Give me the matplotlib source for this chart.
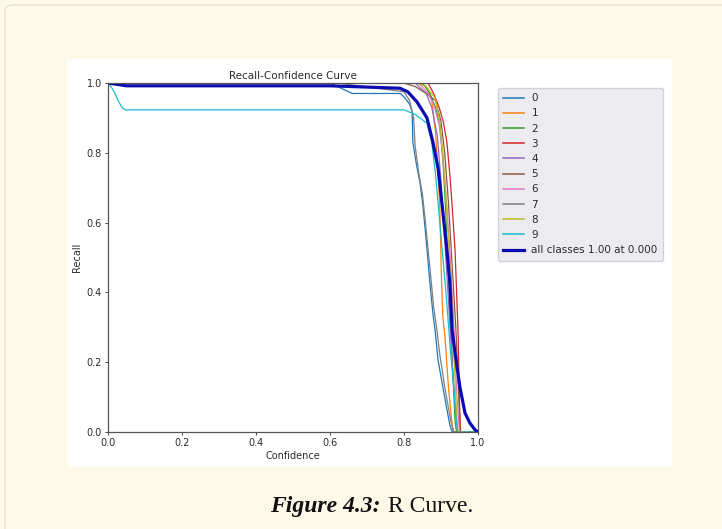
import matplotlib
matplotlib.use("Agg")
import matplotlib.pyplot as plt
from matplotlib.patches import FancyBboxPatch, Rectangle

# class curves (confidence -> recall)
class_names = ["0", "1", "2", "3", "4", "5", "6", "7", "8", "9"]
class_colors = ["#1f77b4", "#ff7f0e", "#2ca02c", "#d62728", "#9467bd",
                "#8c564b", "#e377c2", "#7f7f7f", "#bcbd22", "#17becf"]

conf_0 = [0, 0.60, 0.66, 0.79, 0.80, 0.815, 0.822, 0.824, 0.833, 0.843, 0.851, 0.86, 0.870, 0.878, 0.884, 0.892, 0.905, 0.915, 0.924, 0.93, 1.0]
recall_0 = [1.0, 1.0, 0.97, 0.97, 0.96, 0.94, 0.917, 0.83, 0.77, 0.716, 0.65, 0.55, 0.427, 0.341, 0.292, 0.206, 0.129, 0.07, 0.02, 0.0, 0.0]

conf_1 = [0, 0.84, 0.86, 0.875, 0.885, 0.892, 0.897, 0.901, 0.905, 0.911, 0.92, 0.93, 0.935, 1.0]
recall_1 = [1.0, 1.0, 0.99, 0.95, 0.86, 0.75, 0.636, 0.45, 0.33, 0.27, 0.13, 0.02, 0.0, 0.0]

conf_2 = [0, 0.85, 0.87, 0.885, 0.897, 0.905, 0.912, 0.918, 0.925, 0.932, 0.938, 0.942, 1.0]
recall_2 = [1.0, 1.0, 0.97, 0.93, 0.88, 0.78, 0.65, 0.5, 0.34, 0.17, 0.03, 0.0, 0.0]

conf_3 = [0, 0.865, 0.88, 0.895, 0.906, 0.916, 0.924, 0.93, 0.938, 0.946, 0.95, 0.953, 1.0]
recall_3 = [1.0, 1.0, 0.97, 0.93, 0.89, 0.83, 0.736, 0.65, 0.52, 0.29, 0.08, 0.0, 0.0]

conf_4 = [0, 0.83, 0.86, 0.875, 0.89, 0.9, 0.91, 0.92, 0.93, 0.94, 0.945, 1.0]
recall_4 = [1.0, 1.0, 0.97, 0.93, 0.85, 0.72, 0.55, 0.38, 0.2, 0.05, 0.0, 0.0]

conf_5 = [0, 0.8, 0.83, 0.86, 0.885, 0.9, 0.91, 0.92, 0.93, 0.94, 0.948, 0.952, 1.0]
recall_5 = [1.0, 1.0, 0.99, 0.97, 0.95, 0.89, 0.8, 0.66, 0.48, 0.3, 0.1, 0.0, 0.0]

conf_6 = [0, 0.84, 0.865, 0.88, 0.895, 0.905, 0.915, 0.925, 0.935, 0.943, 0.95, 1.0]
recall_6 = [1.0, 1.0, 0.97, 0.94, 0.88, 0.79, 0.66, 0.5, 0.3, 0.1, 0.0, 0.0]

conf_7 = [0, 0.62, 0.80, 0.815, 0.826, 0.83, 0.84, 0.85, 0.858, 0.87, 0.88, 0.888, 0.897, 0.91, 0.925, 0.934, 1.0]
recall_7 = [1.0, 1.0, 0.975, 0.95, 0.9, 0.82, 0.74, 0.68, 0.6, 0.47, 0.36, 0.3, 0.22, 0.13, 0.04, 0.0, 0.0]

conf_8 = [0, 0.835, 0.86, 0.884, 0.895, 0.905, 0.913, 0.92, 0.928, 0.936, 0.942, 0.946, 1.0]
recall_8 = [1.0, 1.0, 0.99, 0.957, 0.9, 0.8, 0.68, 0.55, 0.4, 0.2, 0.05, 0.0, 0.0]

conf_9 = [0, 0.008, 0.019, 0.027, 0.038, 0.046, 0.80, 0.83, 0.862, 0.875, 0.885, 0.895, 0.905, 0.915, 0.925, 0.935, 0.94, 0.945, 1.0]
recall_9 = [1.0, 0.99, 0.97, 0.95, 0.93, 0.923, 0.923, 0.91, 0.885, 0.83, 0.74, 0.62, 0.5, 0.38, 0.24, 0.12, 0.05, 0.0, 0.0]

conf_all = [0, 0.05, 0.6, 0.789, 0.81, 0.835, 0.862, 0.878, 0.892, 0.903, 0.916, 0.924, 0.930, 0.938, 0.951, 0.965, 0.978, 0.992, 1.0]
recall_all = [1.0, 0.992, 0.992, 0.985, 0.975, 0.946, 0.90, 0.831, 0.756, 0.65, 0.521, 0.427, 0.292, 0.226, 0.129, 0.054, 0.026, 0.006, 0.0]
all_label = "all classes 1.00 at 0.000"

confs = [conf_0, conf_1, conf_2, conf_3, conf_4, conf_5, conf_6, conf_7, conf_8, conf_9]
recalls = [recall_0, recall_1, recall_2, recall_3, recall_4, recall_5, recall_6, recall_7, recall_8, recall_9]

W, H = 722, 529
fig = plt.figure(figsize=(W / 100, H / 100), dpi=100)
fig.patch.set_facecolor("#fefae8")

# page box and white chart image behind the axes
fig.patches.append(FancyBboxPatch((5 / W, -20 / H), 740 / W, (H - 5 + 20) / H,
                                  boxstyle="round,pad=0,rounding_size=0.012",
                                  transform=fig.transFigure, facecolor="#fef9e7",
                                  edgecolor="#e9e6da", linewidth=1.2, zorder=0))
fig.patches.append(Rectangle((67 / W, (H - 467) / H), (672 - 67) / W, (467 - 59) / H,
                             transform=fig.transFigure, facecolor="white",
                             edgecolor="none", zorder=1))

ax = fig.add_axes([108 / W, (H - 432) / H, 370 / W, 349 / H])
ax.set_zorder(2)
txt = "#2b2b2b"
for i in range(len(class_names)):
    ax.plot(confs[i], recalls[i], linewidth=0.9, color=class_colors[i], label=class_names[i])
ax.plot(conf_all, recall_all, linewidth=2.3, color="#0b0bb0", label=all_label)

ax.set_xlim(0, 1)
ax.set_ylim(0, 1)
ax.set_xticks([0, 0.2, 0.4, 0.6, 0.8, 1.0])
ax.set_yticks([0, 0.2, 0.4, 0.6, 0.8, 1.0])
ax.tick_params(labelsize=7, length=2.5, width=0.7, colors="#444", labelcolor=txt, pad=2)
for s in ax.spines.values():
    s.set_color("#555")
    s.set_linewidth(0.9)
ax.set_xlabel("Confidence", fontsize=7, color=txt, labelpad=2)
ax.set_ylabel("Recall", fontsize=7, color=txt, labelpad=3)
ax.set_title("Recall-Confidence Curve", fontsize=7.5, color=txt, pad=3)

leg = ax.legend(loc="upper left", bbox_to_anchor=(498 / W, (H - 88) / H),
                bbox_transform=fig.transFigure, fontsize=7.5, frameon=True,
                fancybox=True, handlelength=2.0, handletextpad=0.7,
                labelspacing=0.5, borderpad=0.5, borderaxespad=0)
leg.get_frame().set_facecolor("#ebebf0")
leg.get_frame().set_edgecolor("#d2d2d6")
leg.get_frame().set_alpha(1)
for t in leg.get_texts():
    t.set_color(txt)
for line in leg.get_lines()[:-1]:
    line.set_linewidth(1.1)

# caption under the chart
fig.text(381 / W, 1 - 512 / H, "Figure 4.3:", fontsize=17, fontweight="bold",
         fontstyle="italic", family="Liberation Serif", ha="right", va="baseline", color="#111")
fig.text(388 / W, 1 - 512 / H, "R Curve.", fontsize=17, family="Liberation Serif",
         ha="left", va="baseline", color="#111")

fig.savefig("out.png", dpi=100, facecolor=fig.get_facecolor())
